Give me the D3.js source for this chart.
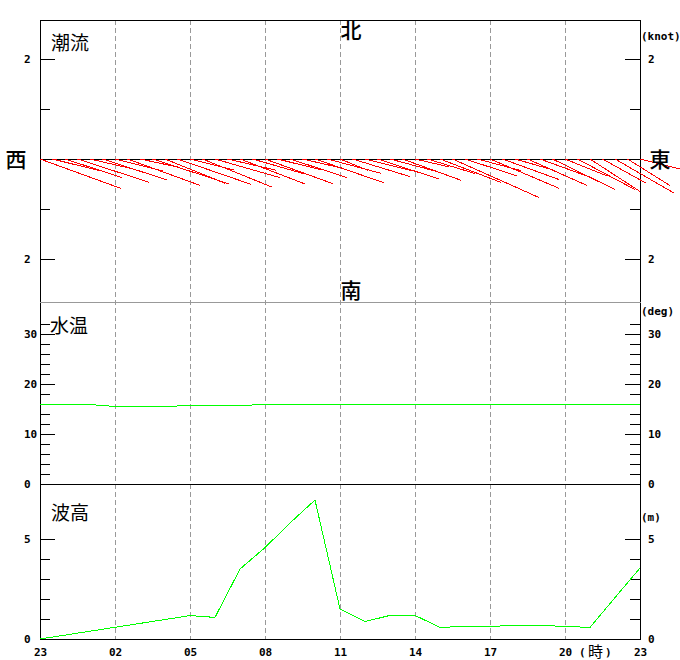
<!DOCTYPE html>
<html><head><meta charset="utf-8">
<script src="https://cdn.jsdelivr.net/npm/d3@7"></script>
<style>
body{margin:0;background:#fff}
.num{font-family:"DejaVu Sans Mono","Liberation Mono",monospace;font-weight:bold;font-size:11px;fill:#000}
.cjk{font-family:"Noto Sans CJK JP","Noto Sans CJK SC",sans-serif;fill:#000}
</style>
</head><body><svg id="c" width="680" height="660"></svg>
<script>
// ---- data ----
const hourTicks  = [0,3,6,9,12,15,18,21,24];
const hourLabels = ["23","02","05","08","11","14","17","20","23"];

// tidal current, every 30 min from 23:00 (hours after 23:00)
const curHours = [0,0.5,1,1.5,2,2.5,3,3.5,4,4.5,5,5.5,6,6.5,7,7.5,8,8.5,9,9.5,10,10.5,11,11.5,
                  12,12.5,13,13.5,14,14.5,15,15.5,16,16.5,17,17.5,18,18.5,19,19.5,20,20.5,21,21.5,22,22.5,23,23.5,24];
const curSpeed = [1.73,1.0,1.2,1.5,0.9,1.35,1.0,1.55,0.8,1.6,1.3,1.55,0.9,1.5,1.35,1.0,1.4,1.1,1.45,0.9,1.2,0.8,1.45,1.1,
                  0.6,1.2,1.0,1.3,0.9,1.25,0.7,1.0,1.3,1.9,1.1,0.9,1.5,1.2,0.8,1.3,1.0,1.4,0.9,1.3,1.2,1.0,1.35,1.0,0.9];
const curDir   = [110,104,108,108,103,108,104,110,102,108,112,109,104,112,106,103,111,106,110,104,108,103,109,105,
                  112,107,104,108,105,110,103,107,111,114,108,105,113,110,106,114,110,116,112,118,123,119,120,122,104];

// water temperature (deg)
const tempHours  = [0,1,2,3,4,5,6,7,8,9,10,11,12,13,14,15,16,17,18,19,20,21,22,23,24];
const tempValues = [16.0,16.0,16.0,15.7,15.7,15.7,15.75,15.9,15.9,16.1,16.1,16.1,16.1,16.1,16.1,16.1,16.1,16.1,16.1,16.1,16.1,16.1,16.1,16.1,16.1];

// wave height
const waveHours  = [0,6,7,8,9,10,11,12,13,14,15,16,17,18,19,20,21,22,23,24];
const waveValues = [0,1.17,1.08,3.5,4.57,5.8,6.95,1.5,0.87,1.18,1.18,0.58,0.63,0.63,0.68,0.68,0.63,0.58,2.07,3.55];

const curMajor = [-2,2], curMinor = [-1,1];
const tmpMajor = [0,10,20,30], tmpMinor = [2,4,6,8,12,14,16,18,22,24,26,28,32];
const wavMajor = [0,5], wavMinor = [1,2,3,4];

// ---- drawing ----
const svg = d3.select("#c");
svg.append("rect").attr("width",680).attr("height",660).attr("fill","#fff");

const x    = d3.scaleLinear().domain([0,24]).range([40,640]);
const yCur = d3.scaleLinear().domain([-2,2]).range([259,59]);
const yTmp = d3.scaleLinear().domain([0,30]).range([484,334]);
const yWav = d3.scaleLinear().domain([0,5]).range([639,539]);

const TOP = 20, SEP1 = 302, SEP2 = yTmp(0), BOT = yWav(0);

// dashed vertical grid
svg.append("g").selectAll("line").data(hourTicks.filter(d=>d>0&&d<24)).join("line")
  .attr("x1",d=>Math.round(x(d))+0.5).attr("x2",d=>Math.round(x(d))+0.5)
  .attr("y1",TOP).attr("y2",BOT)
  .attr("stroke","#999").attr("stroke-dasharray","5,3").attr("shape-rendering","crispEdges");

// frame
const frame = svg.append("g").attr("shape-rendering","crispEdges").attr("stroke","#000");
frame.append("line").attr("x1",40.5).attr("x2",40.5).attr("y1",TOP).attr("y2",BOT+0.5);
frame.append("line").attr("x1",640.5).attr("x2",640.5).attr("y1",TOP).attr("y2",BOT+0.5);
frame.append("line").attr("x1",40).attr("x2",641).attr("y1",TOP+0.5).attr("y2",TOP+0.5);
frame.append("line").attr("x1",40).attr("x2",641).attr("y1",yCur(0)+0.5).attr("y2",yCur(0)+0.5);
frame.append("line").attr("x1",40).attr("x2",641).attr("y1",SEP1+0.5).attr("y2",SEP1+0.5).attr("stroke","#999");
frame.append("line").attr("x1",40).attr("x2",641).attr("y1",SEP2+0.5).attr("y2",SEP2+0.5);
frame.append("line").attr("x1",40).attr("x2",641).attr("y1",BOT+0.5).attr("y2",BOT+0.5);

function axes(scale, major, minor, fmt){
  const gl = svg.append("g").attr("transform","translate(40,0)");
  gl.call(d3.axisLeft(scale).tickValues(major).tickSize(-15).tickPadding(16).tickFormat(fmt));
  gl.select(".domain").remove();
  gl.selectAll("text").attr("class","num").attr("text-anchor","start").attr("x",-16).attr("font-family",null).attr("font-size",null);
  const gl2 = svg.append("g").attr("transform","translate(40,0)");
  gl2.call(d3.axisLeft(scale).tickValues(minor).tickSize(-10).tickFormat(""));
  gl2.select(".domain").remove();
  const gr = svg.append("g").attr("transform","translate(640,0)");
  gr.call(d3.axisRight(scale).tickValues(major).tickSize(-15).tickPadding(8).tickFormat(fmt));
  gr.select(".domain").remove();
  gr.selectAll("text").attr("class","num").attr("text-anchor","start").attr("x",8).attr("font-family",null).attr("font-size",null);
  const gr2 = svg.append("g").attr("transform","translate(640,0)");
  gr2.call(d3.axisRight(scale).tickValues(minor).tickSize(-10).tickFormat(""));
  gr2.select(".domain").remove();
  svg.selectAll(".tick line").attr("shape-rendering","crispEdges");
}
axes(yCur, curMajor, curMinor, d=>String(Math.abs(d)));
axes(yTmp, tmpMajor, tmpMinor, d=>String(d));
axes(yWav, wavMajor, wavMinor, d=>String(d));

// bottom axis
const gb = svg.append("g").attr("transform",`translate(0,${BOT})`);
gb.call(d3.axisBottom(x).tickValues(hourTicks).tickSize(0).tickPadding(9).tickFormat((d,i)=>hourLabels[i]));
gb.select(".domain").remove();
gb.selectAll("text").attr("class","num").attr("font-family",null).attr("font-size",null);

// current vectors
svg.append("g").selectAll("line").data(curHours).join("line")
  .attr("x1",(d)=>x(d)).attr("y1",yCur(0))
  .attr("x2",(d,i)=>x(d) + (yCur(0) - yCur(curSpeed[i]*Math.sin(curDir[i]*Math.PI/180))))
  .attr("y2",(d,i)=>yCur(curSpeed[i]*Math.cos(curDir[i]*Math.PI/180)))
  .attr("stroke","#ff0000").attr("stroke-width",1).attr("shape-rendering","crispEdges");

// temperature line
svg.append("path").datum(tempHours.map((h,i)=>[h,tempValues[i]]))
  .attr("d",d3.line().x(d=>x(d[0])).y(d=>Math.round(yTmp(d[1]))+0.5))
  .attr("fill","none").attr("stroke","#00ff00").attr("stroke-width",1).attr("shape-rendering","crispEdges");

// wave line
svg.append("path").datum(waveHours.map((h,i)=>[h,waveValues[i]]))
  .attr("d",d3.line().x(d=>x(d[0])).y(d=>yWav(d[1])))
  .attr("fill","none").attr("stroke","#00ff00").attr("stroke-width",1).attr("shape-rendering","crispEdges");

// labels
const t = (txt,xx,yy,cls,size,anchor,weight)=>svg.append("text").attr("x",xx).attr("y",yy).attr("class",cls)
  .attr("font-size",size).attr("text-anchor",anchor||"start").attr("font-weight",weight||null).text(txt);
t("北",351,38,"cjk",21,"middle","500");
t("南",351,298,"cjk",21,"middle","500");
t("西",16,167,"cjk",21,"middle","500");
t("東",660,167,"cjk",21,"middle","500");
t("潮流",51,50,"cjk",19,"start","400");
t("水温",50,333,"cjk",19,"start","400");
t("波高",51,520,"cjk",19,"start","400");
svg.append("text").attr("class","num").attr("x",641).attr("y",40).text("(knot)");
svg.append("text").attr("class","num").attr("x",641).attr("y",315).text("(deg)");
svg.append("text").attr("class","num").attr("x",641).attr("y",521).text("(m)");
svg.append("text").attr("class","num").attr("x",579).attr("y",656).text("(");
t("時",588,657,"cjk",15,"start","400");
svg.append("text").attr("class","num").attr("x",605).attr("y",656).text(")");
</script>
</body></html>
